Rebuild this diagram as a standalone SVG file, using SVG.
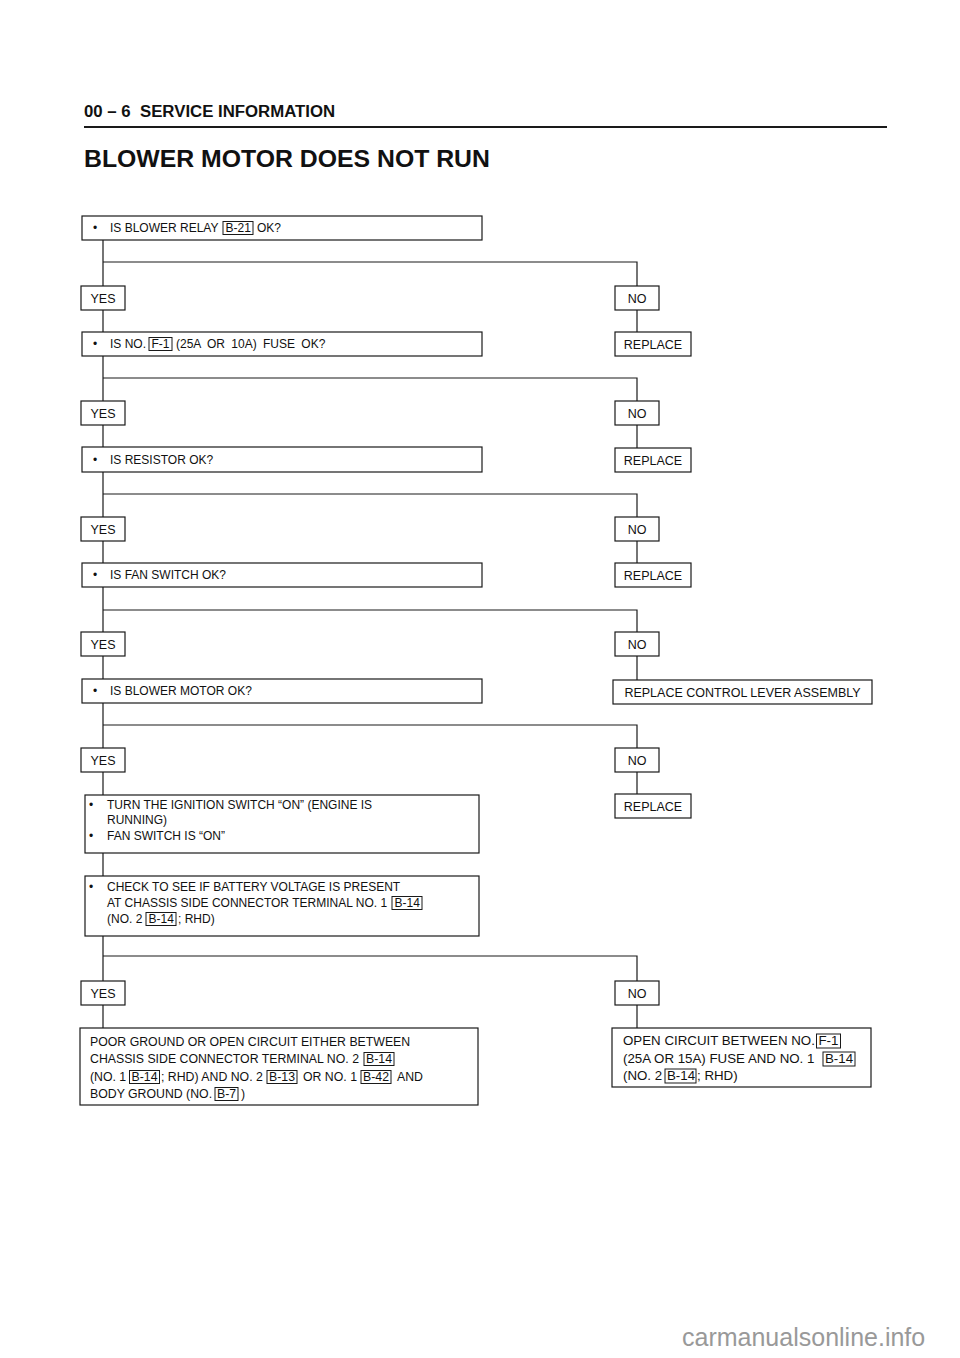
<svg xmlns="http://www.w3.org/2000/svg" width="960" height="1358" viewBox="0 0 960 1358">
<style>
.bx{fill:none;stroke:#1a1a1a;stroke-width:1.2}
.rf{fill:none;stroke:#1a1a1a;stroke-width:1}
.cn{fill:none;stroke:#1a1a1a;stroke-width:1.2}
text{font-family:"Liberation Sans",Arial,sans-serif;fill:#111}
.t{font-size:12px}
.l{font-size:12.5px;text-anchor:middle}
.t8{font-size:12.3px}
.t9{font-size:13.3px}
.h{font-weight:bold}
</style>
<rect width="960" height="1358" fill="#fff"/>
<g id="header">
<text class="h" x="84" y="117" font-size="16.8" xml:space="preserve">00 – 6  SERVICE INFORMATION</text>
<line x1="84" y1="127" x2="887" y2="127" stroke="#1a1a1a" stroke-width="2.2"/>
<text class="h" x="84" y="167" font-size="24.8">BLOWER MOTOR DOES NOT RUN</text>
</g>
<g id="connectors">
<path class="cn" d="M103 240V286M103 310V332M103 356V401M103 425V447M103 472V517M103 541V563M103 587V632M103 656V679M103 703V748M103 772V795M103 853V876M103 936V981M103 1005V1028"/>
<path class="cn" d="M103 262H637V286M103 378H637V401M103 494H637V517M103 610H637V632M103 725H637V748M103 956H637V981"/>
<path class="cn" d="M637 310V332M637 425V448M637 541V563M637 656V680M637 772V794M637 1005V1028"/>
</g>
<g id="q1">
<rect class="bx" x="82" y="216" width="400" height="24"/>
<text class="t" x="93" y="232">•</text>
<text class="t" x="110" y="232">IS BLOWER RELAY</text>
<rect class="rf" x="223" y="221.5" width="30" height="13"/>
<text class="t" x="225.5" y="232">B-21</text>
<text class="t" x="257" y="232">OK?</text>
</g>
<g id="yes1"><rect class="bx" x="81" y="286" width="44" height="24"/><text class="l" x="103" y="302.5">YES</text></g>
<g id="no1"><rect class="bx" x="615" y="286" width="44" height="24"/><text class="l" x="637" y="302.5">NO</text></g>
<g id="rep1"><rect class="bx" x="615" y="332" width="76" height="24"/><text class="l" x="653" y="348.5">REPLACE</text></g>
<g id="q2">
<rect class="bx" x="82" y="332" width="400" height="24"/>
<text class="t" x="93" y="348">•</text>
<text class="t" x="110" y="348">IS NO.</text>
<rect class="rf" x="149" y="337.5" width="23" height="13"/>
<text class="t" x="151.5" y="348">F-1</text>
<text class="t" x="176" y="348" word-spacing="3">(25A OR 10A) FUSE OK?</text>
</g>
<g id="yes2"><rect class="bx" x="81" y="401" width="44" height="24"/><text class="l" x="103" y="417.5">YES</text></g>
<g id="no2"><rect class="bx" x="615" y="401" width="44" height="24"/><text class="l" x="637" y="417.5">NO</text></g>
<g id="rep2"><rect class="bx" x="615" y="448" width="76" height="24"/><text class="l" x="653" y="464.5">REPLACE</text></g>
<g id="q3">
<rect class="bx" x="82" y="447" width="400" height="25"/>
<text class="t" x="93" y="464">•</text>
<text class="t" x="110" y="464">IS RESISTOR OK?</text>
</g>
<g id="yes3"><rect class="bx" x="81" y="517" width="44" height="24"/><text class="l" x="103" y="533.5">YES</text></g>
<g id="no3"><rect class="bx" x="615" y="517" width="44" height="24"/><text class="l" x="637" y="533.5">NO</text></g>
<g id="rep3"><rect class="bx" x="615" y="563" width="76" height="24"/><text class="l" x="653" y="579.5">REPLACE</text></g>
<g id="q4">
<rect class="bx" x="82" y="563" width="400" height="24"/>
<text class="t" x="93" y="579">•</text>
<text class="t" x="110" y="579">IS FAN SWITCH OK?</text>
</g>
<g id="yes4"><rect class="bx" x="81" y="632" width="44" height="24"/><text class="l" x="103" y="648.5">YES</text></g>
<g id="no4"><rect class="bx" x="615" y="632" width="44" height="24"/><text class="l" x="637" y="648.5">NO</text></g>
<g id="rep4"><rect class="bx" x="613" y="680" width="259" height="24"/><text class="l" x="742.5" y="696.5">REPLACE CONTROL LEVER ASSEMBLY</text></g>
<g id="q5">
<rect class="bx" x="82" y="679" width="400" height="24"/>
<text class="t" x="93" y="695">•</text>
<text class="t" x="110" y="695">IS BLOWER MOTOR OK?</text>
</g>
<g id="yes5"><rect class="bx" x="81" y="748" width="44" height="24"/><text class="l" x="103" y="764.5">YES</text></g>
<g id="no5"><rect class="bx" x="615" y="748" width="44" height="24"/><text class="l" x="637" y="764.5">NO</text></g>
<g id="rep5"><rect class="bx" x="615" y="794" width="76" height="24"/><text class="l" x="653" y="810.5">REPLACE</text></g>
<g id="s6">
<rect class="bx" x="85" y="795" width="394" height="58"/>
<text class="t" x="89" y="809">•</text>
<text class="t" x="107" y="809">TURN THE IGNITION SWITCH “ON” (ENGINE IS</text>
<text class="t" x="107" y="824">RUNNING)</text>
<text class="t" x="89" y="840">•</text>
<text class="t" x="107" y="840">FAN SWITCH IS “ON”</text>
</g>
<g id="s7">
<rect class="bx" x="85" y="876" width="394" height="60"/>
<text class="t" x="89" y="891">•</text>
<text class="t" x="107" y="891">CHECK TO SEE IF BATTERY VOLTAGE IS PRESENT</text>
<text class="t" x="107" y="907">AT CHASSIS SIDE CONNECTOR TERMINAL NO. 1</text>
<rect class="rf" x="392" y="896.5" width="30" height="13"/>
<text class="t" x="394.5" y="907">B-14</text>
<text class="t" x="107" y="923">(NO. 2</text>
<rect class="rf" x="146" y="912.5" width="30" height="13"/>
<text class="t" x="148.5" y="923">B-14</text>
<text class="t" x="178" y="923">; RHD)</text>
</g>
<g id="yes6"><rect class="bx" x="81" y="981" width="44" height="24"/><text class="l" x="103" y="997.5">YES</text></g>
<g id="no6"><rect class="bx" x="615" y="981" width="44" height="24"/><text class="l" x="637" y="997.5">NO</text></g>
<g id="r8">
<rect class="bx" x="80" y="1028" width="398" height="77"/>
<text class="t8" x="90" y="1046">POOR GROUND OR OPEN CIRCUIT EITHER BETWEEN</text>
<text class="t8" x="90" y="1063">CHASSIS SIDE CONNECTOR TERMINAL NO. 2</text>
<rect class="rf" x="364" y="1052.5" width="30" height="13"/>
<text class="t8" x="366" y="1063">B-14</text>
<text class="t8" x="90" y="1081">(NO. 1</text>
<rect class="rf" x="129.5" y="1070.5" width="30" height="13"/>
<text class="t8" x="131.5" y="1081">B-14</text>
<text class="t8" x="161" y="1081">; RHD) AND NO. 2</text>
<rect class="rf" x="267" y="1070.5" width="30" height="13"/>
<text class="t8" x="269" y="1081">B-13</text>
<text class="t8" x="303" y="1081">OR NO. 1</text>
<rect class="rf" x="361" y="1070.5" width="30" height="13"/>
<text class="t8" x="363" y="1081">B-42</text>
<text class="t8" x="397" y="1081">AND</text>
<text class="t8" x="90" y="1098">BODY GROUND (NO.</text>
<rect class="rf" x="215" y="1087.5" width="23" height="13"/>
<text class="t8" x="217" y="1098">B-7</text>
<text class="t8" x="241" y="1098">)</text>
</g>
<g id="r9">
<rect class="bx" x="612" y="1028" width="259" height="59"/>
<text class="t9" x="623" y="1045">OPEN CIRCUIT BETWEEN NO.</text>
<rect class="rf" x="816.5" y="1034" width="24" height="14"/>
<text class="t9" x="818.5" y="1045">F-1</text>
<text class="t9" x="623" y="1063">(25A OR 15A) FUSE AND NO. 1</text>
<rect class="rf" x="823" y="1052" width="32" height="14"/>
<text class="t9" x="825" y="1063">B-14</text>
<text class="t9" x="623" y="1080">(NO. 2</text>
<rect class="rf" x="665" y="1069" width="31" height="14"/>
<text class="t9" x="667" y="1080">B-14</text>
<text class="t9" x="697" y="1080">; RHD)</text>
</g>
<text x="682" y="1346" font-size="25" style="fill:#999">carmanualsonline.info</text>
</svg>
